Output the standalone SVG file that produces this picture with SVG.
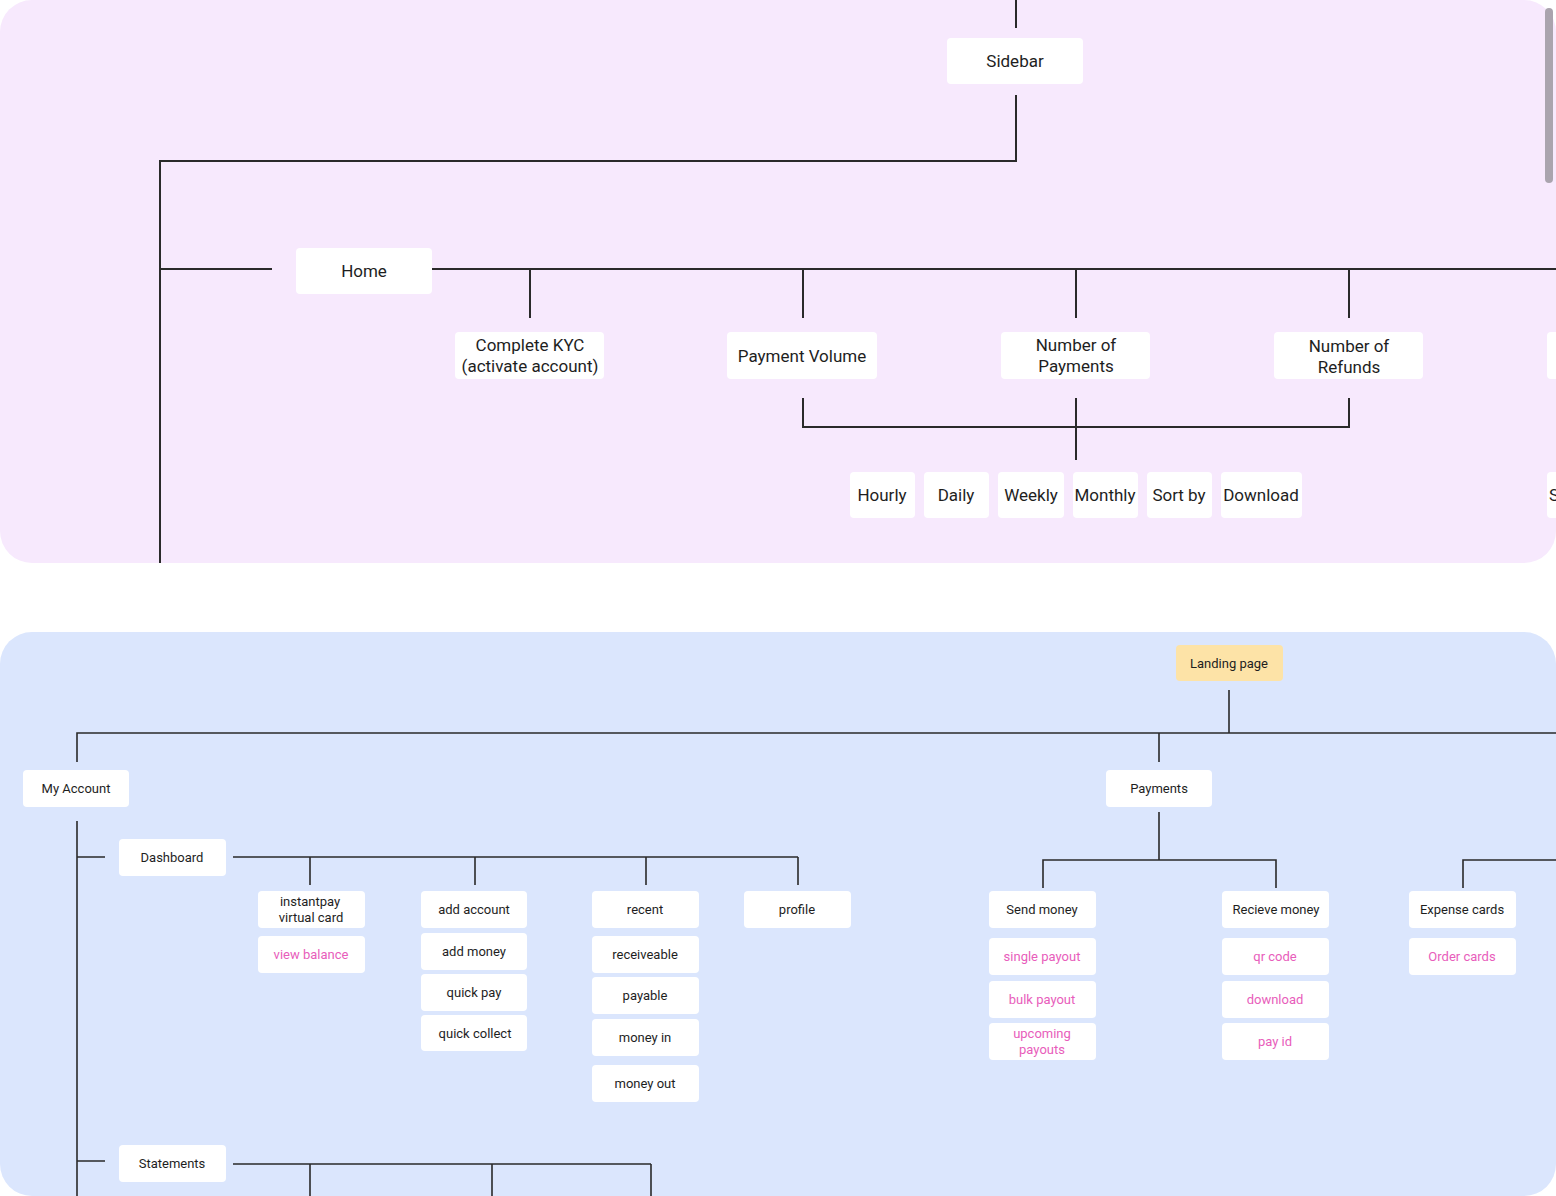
<svg xmlns="http://www.w3.org/2000/svg" width="1556" height="1196" viewBox="0 0 1556 1196">
<style>
.box{fill:#ffffff}
.t{font-family:Roboto,"Liberation Sans",sans-serif;font-size:17px;fill:#1e1e1e;text-anchor:middle}
.s{font-family:Roboto,"Liberation Sans",sans-serif;font-size:13px;fill:#1e1e1e;text-anchor:middle}
.p{fill:#e85dbb}
.ln{fill:none;stroke:#2a2a2a;stroke-width:2}
.lb{fill:none;stroke:#2a2a2a;stroke-width:1.6}
</style>
<rect width="1556" height="1196" fill="#ffffff"/>
<rect x="0" y="0" width="1556" height="563" rx="32" fill="#f7e9fd"/>
<rect x="0" y="632" width="1556" height="564" rx="32" fill="#dbe6fd"/>
<rect x="1545" y="8" width="8" height="175" rx="4" fill="#aaa4ae"/>
<g id="connectors">
<path class="ln" d="M1016 0V28M1016 95V161H160V563M160 269H272M432 269H1556M530 269V318M803 269V318M1076 269V318M1349 269V318M803 398V427H1349V398M1076 398V460"/>
<path class="lb" d="M1229 690V733M77 762V733H1556M1159 733V762M77 821V1196M77 857H105M233 857H798M310 857V885M475 857V885M646 857V885M798 857V885M1159 812V860M1043 888V860H1276V888M1463 888V860H1556M77 1161H105M233 1164H651M310 1164V1196M492 1164V1196M651 1164V1196"/>
</g>
<g id="sidebar"><rect class="box" x="947" y="38" width="136" height="46" rx="4"/><text class="t" x="1015" y="67">Sidebar</text></g>
<g id="home"><rect class="box" x="296" y="248" width="136" height="46" rx="4"/><text class="t" x="364" y="277">Home</text></g>
<g id="kyc"><rect class="box" x="455" y="332" width="149" height="47" rx="4"/><text class="t" x="530" y="351">Complete KYC</text><text class="t" x="530" y="372">(activate account)</text></g>
<g id="payment-volume"><rect class="box" x="727" y="332" width="150" height="47" rx="4"/><text class="t" x="802" y="362">Payment Volume</text></g>
<g id="num-payments"><rect class="box" x="1001" y="332" width="149" height="47" rx="4"/><text class="t" x="1076" y="351">Number of</text><text class="t" x="1076" y="372">Payments</text></g>
<g id="num-refunds"><rect class="box" x="1274" y="332" width="149" height="47" rx="4"/><text class="t" x="1349" y="352">Number of</text><text class="t" x="1349" y="373">Refunds</text></g>
<g id="partial-top"><rect class="box" x="1547" y="332" width="20" height="47" rx="4"/></g>
<g id="hourly"><rect class="box" x="850" y="472" width="65" height="46" rx="4"/><text class="t" x="882" y="501">Hourly</text></g>
<g id="daily"><rect class="box" x="924" y="472" width="65" height="46" rx="4"/><text class="t" x="956" y="501">Daily</text></g>
<g id="weekly"><rect class="box" x="998" y="472" width="66" height="46" rx="4"/><text class="t" x="1031" y="501">Weekly</text></g>
<g id="monthly"><rect class="box" x="1073" y="472" width="65" height="46" rx="4"/><text class="t" x="1105" y="501">Monthly</text></g>
<g id="sortby"><rect class="box" x="1147" y="472" width="65" height="46" rx="4"/><text class="t" x="1179" y="501">Sort by</text></g>
<g id="download"><rect class="box" x="1221" y="472" width="81" height="46" rx="4"/><text class="t" x="1261" y="501">Download</text></g>
<g id="partial-s"><rect class="box" x="1547" y="472" width="20" height="46" rx="4"/><text class="t" x="1549" y="501" style="text-anchor:start">S</text></g>

<g id="landing"><rect x="1176" y="645" width="107" height="36" rx="4" fill="#fde3a7"/><text class="s" x="1229" y="668">Landing page</text></g>
<g id="my-account"><rect class="box" x="23" y="770" width="106" height="37" rx="4"/><text class="s" x="76" y="793">My Account</text></g>
<g id="payments"><rect class="box" x="1106" y="770" width="106" height="37" rx="4"/><text class="s" x="1159" y="793">Payments</text></g>
<g id="dashboard"><rect class="box" x="119" y="839" width="107" height="37" rx="4"/><text class="s" x="172" y="862">Dashboard</text></g>
<g id="instantpay"><rect class="box" x="258" y="891" width="107" height="37" rx="4"/><text class="s" x="310" y="906">instantpay</text><text class="s" x="311" y="922">virtual card</text></g>
<g id="view-balance"><rect class="box" x="258" y="936" width="107" height="37" rx="4"/><text class="s p" x="311" y="959">view balance</text></g>
<g id="add-account"><rect class="box" x="421" y="891" width="106" height="37" rx="4"/><text class="s" x="474" y="914">add account</text></g>
<g id="add-money"><rect class="box" x="421" y="933" width="106" height="37" rx="4"/><text class="s" x="474" y="956">add money</text></g>
<g id="quick-pay"><rect class="box" x="421" y="974" width="106" height="37" rx="4"/><text class="s" x="474" y="997">quick pay</text></g>
<g id="quick-collect"><rect class="box" x="421" y="1015" width="106" height="36" rx="4"/><text class="s" x="475" y="1038">quick collect</text></g>
<g id="recent"><rect class="box" x="592" y="891" width="107" height="37" rx="4"/><text class="s" x="645" y="914">recent</text></g>
<g id="receiveable"><rect class="box" x="592" y="936" width="107" height="37" rx="4"/><text class="s" x="645" y="959">receiveable</text></g>
<g id="payable"><rect class="box" x="592" y="977" width="107" height="37" rx="4"/><text class="s" x="645" y="1000">payable</text></g>
<g id="money-in"><rect class="box" x="592" y="1019" width="107" height="37" rx="4"/><text class="s" x="645" y="1042">money in</text></g>
<g id="money-out"><rect class="box" x="592" y="1065" width="107" height="37" rx="4"/><text class="s" x="645" y="1088">money out</text></g>
<g id="profile"><rect class="box" x="744" y="891" width="107" height="37" rx="4"/><text class="s" x="797" y="914">profile</text></g>
<g id="send-money"><rect class="box" x="989" y="891" width="107" height="37" rx="4"/><text class="s" x="1042" y="914">Send money</text></g>
<g id="single-payout"><rect class="box" x="989" y="938" width="107" height="37" rx="4"/><text class="s p" x="1042" y="961">single payout</text></g>
<g id="bulk-payout"><rect class="box" x="989" y="981" width="107" height="37" rx="4"/><text class="s p" x="1042" y="1004">bulk payout</text></g>
<g id="upcoming-payouts"><rect class="box" x="989" y="1023" width="107" height="37" rx="4"/><text class="s p" x="1042" y="1038">upcoming</text><text class="s p" x="1042" y="1054">payouts</text></g>
<g id="recieve-money"><rect class="box" x="1222" y="891" width="107" height="37" rx="4"/><text class="s" x="1276" y="914">Recieve money</text></g>
<g id="qr-code"><rect class="box" x="1222" y="938" width="107" height="37" rx="4"/><text class="s p" x="1275" y="961">qr code</text></g>
<g id="download2"><rect class="box" x="1222" y="981" width="107" height="37" rx="4"/><text class="s p" x="1275" y="1004">download</text></g>
<g id="pay-id"><rect class="box" x="1222" y="1023" width="107" height="37" rx="4"/><text class="s p" x="1275" y="1046">pay id</text></g>
<g id="expense-cards"><rect class="box" x="1409" y="891" width="107" height="37" rx="4"/><text class="s" x="1462" y="914">Expense cards</text></g>
<g id="order-cards"><rect class="box" x="1409" y="938" width="107" height="37" rx="4"/><text class="s p" x="1462" y="961">Order cards</text></g>
<g id="statements"><rect class="box" x="119" y="1145" width="107" height="37" rx="4"/><text class="s" x="172" y="1168">Statements</text></g>
</svg>
